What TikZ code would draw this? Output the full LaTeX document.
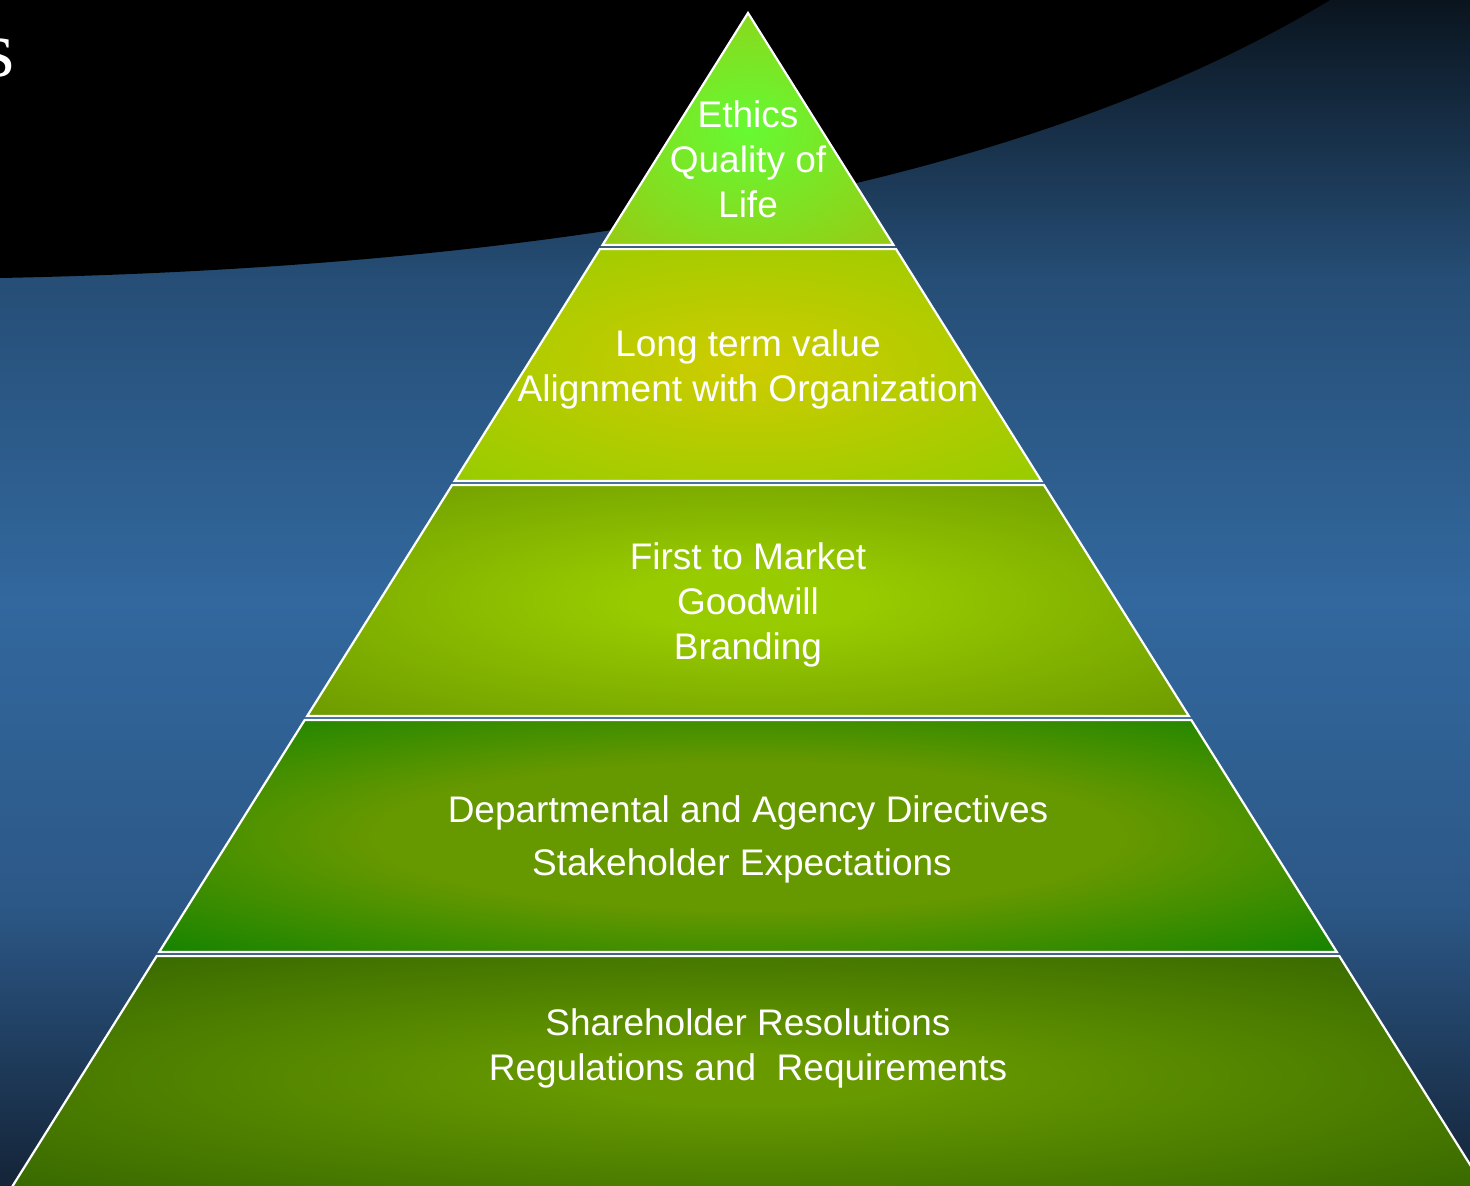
\documentclass[tikz,border=0pt]{standalone}
\usepackage{fontspec}
\setmainfont{Liberation Sans}
\newfontfamily\titleserif{Liberation Serif}
\definecolor{bgbot}{RGB}{20,36,56}
\definecolor{bgm3}{RGB}{44,88,135}
\definecolor{bgm2}{RGB}{50,104,158}
\definecolor{bgm1}{RGB}{38,78,118}
\definecolor{bgtop}{RGB}{10,20,30}
\definecolor{t1in}{RGB}{102,250,51}
\definecolor{t1out}{RGB}{150,204,20}
\definecolor{t2in}{RGB}{206,204,0}
\definecolor{t2out}{RGB}{150,204,0}
\definecolor{t3in}{RGB}{153,204,0}
\definecolor{t3out}{RGB}{105,150,0}
\definecolor{t4in}{RGB}{102,152,0}
\definecolor{t4out}{RGB}{10,128,0}
\definecolor{t5in}{RGB}{104,154,0}
\definecolor{t5out}{RGB}{51,100,0}
\pgfdeclareverticalshading{bgshade}{100bp}{color(0bp)=(bgbot); color(25bp)=(bgbot); color(37bp)=(bgm3); color(49.7bp)=(bgm2); color(63.2bp)=(bgm1); color(75bp)=(bgtop); color(100bp)=(bgtop)}
\pgfdeclareradialshading{tierA}{\pgfpointorigin}{color(0bp)=(t1in); color(34bp)=(t1out); color(50bp)=(t1out)}
\pgfdeclareradialshading{tierB}{\pgfpointorigin}{color(0bp)=(t2in); color(36bp)=(t2out); color(50bp)=(t2out)}
\pgfdeclareradialshading{tierC}{\pgfpointorigin}{color(0bp)=(t3in); color(6bp)=(t3in); color(38bp)=(t3out); color(50bp)=(t3out)}
\pgfdeclareradialshading{tierD}{\pgfpointorigin}{color(0bp)=(t4in); color(16bp)=(t4in); color(38bp)=(t4out); color(50bp)=(t4out)}
\pgfdeclareradialshading{tierE}{\pgfpointorigin}{color(0bp)=(t5in); color(5bp)=(t5in); color(36bp)=(t5out); color(50bp)=(t5out)}
\tikzset{
  tier/.style={draw=white, line width=2.2pt, line join=miter},
  tiertext/.style={text=white, align=center, inner sep=0pt, font=\fontsize{37}{45}\selectfont},
}
\begin{document}
\begin{tikzpicture}[x=1pt,y=-1pt]
\useasboundingbox (0,0) rectangle (1470,1186);
\clip (0,0) rectangle (1470,1186);
% background
\shade[shading=bgshade] (0,0) rectangle (1470,1186);
\fill[black] (0,0) -- (0,278) .. controls (500,268) and (1000,200) .. (1330,0) -- cycle;
\node[anchor=base east, inner sep=0pt, text=white, font=\titleserif\fontsize{80}{80}\selectfont] (ttl) at (15,76) {s};
% pyramid tiers
\shade[shading=tierA, tier] (748,13) -- (893.5,245) -- (602.5,245) -- cycle;
\shade[shading=tierB, tier] (600,249) -- (896,249) -- (1041.4,481) -- (454.6,481) -- cycle;
\shade[shading=tierC, tier] (452.1,485) -- (1043.9,485) -- (1188.8,716) -- (307.2,716) -- cycle;
\shade[shading=tierD, tier] (304.7,720) -- (1191.3,720) -- (1336.8,952) -- (159.2,952) -- cycle;
\shade[shading=tierE, tier] (156.7,956) -- (1339.3,956) -- (1492.2,1200) -- (3.8,1200) -- cycle;
% texts
\node[tiertext] (t1) at (748,159) {Ethics\\Quality of\\Life};
\node[tiertext] (t2) at (748,369.5) {Long term value\\Alignment with Organization};
\node[tiertext] (t3) at (748,605) {First to Market\\Goodwill\\Branding};
\node[tiertext, font=\fontsize{37}{53}\selectfont] (t4) at (748,839.5) {Departmental and Agency Directives\\Stakeholder Expectations\hspace*{12pt}};
\node[tiertext] (t5) at (748,1048.5) {Shareholder Resolutions\\Regulations and\ \ Requirements};
\end{tikzpicture}
\end{document}
